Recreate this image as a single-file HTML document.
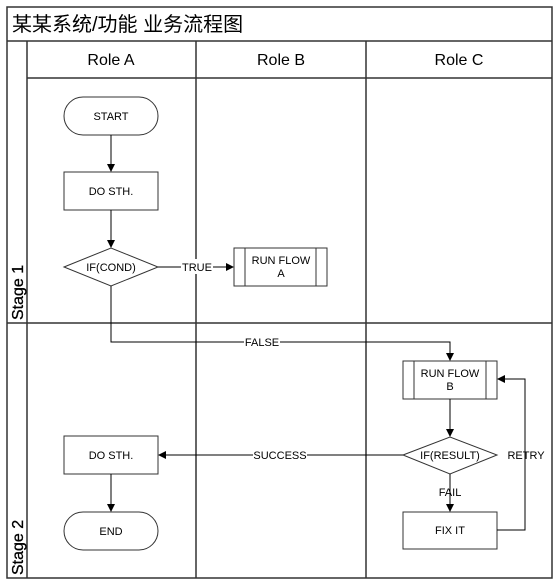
<!DOCTYPE html>
<html><head><meta charset="utf-8"><style>
html,body{margin:0;padding:0;background:#fff;width:555px;height:584px;overflow:hidden}
svg{display:block}
text{font-family:"Liberation Sans","Noto Sans CJK SC",sans-serif;fill:#000}
</style></head><body>
<svg width="555" height="584" viewBox="0 0 555 584" xmlns="http://www.w3.org/2000/svg">
<defs><marker id="a" markerWidth="8" markerHeight="8" refX="7" refY="4" orient="auto" markerUnits="userSpaceOnUse"><path d="M0,0 L8,4 L0,8 z" fill="#000"/></marker></defs>
<g stroke="#333" stroke-width="1.5" fill="none">
<rect x="7" y="7" width="545" height="571"/>
<line x1="7" y1="41" x2="552" y2="41"/>
<line x1="27" y1="78" x2="552" y2="78"/>
<line x1="27" y1="41" x2="27" y2="578"/>
<line x1="196" y1="41" x2="196" y2="578"/>
<line x1="366" y1="41" x2="366" y2="578"/>
<line x1="7" y1="323" x2="552" y2="323"/>
</g>
<text x="12" y="31" font-size="20">某某系统/功能 业务流程图</text>
<g font-size="16" text-anchor="middle">
<text x="111" y="65">Role A</text><text x="281" y="65">Role B</text><text x="459" y="65">Role C</text>
</g>
<text transform="translate(23,320) rotate(-90)" font-size="16" stroke="#000" stroke-width="0.3">Stage 1</text>
<text transform="translate(23,575) rotate(-90)" font-size="16" stroke="#000" stroke-width="0.3">Stage 2</text>
<g stroke="#333" stroke-width="1" fill="#fff">
<rect x="64" y="97" width="94" height="38" rx="19"/>
<rect x="64" y="172" width="94" height="38"/>
<polygon points="64,267 111,248 158,267 111,286"/>
<rect x="234" y="248" width="93" height="38"/>
<line x1="245" y1="248" x2="245" y2="286"/><line x1="316" y1="248" x2="316" y2="286"/>
<rect x="403" y="361" width="94" height="38"/>
<line x1="414" y1="361" x2="414" y2="399"/><line x1="486" y1="361" x2="486" y2="399"/>
<polygon points="403,455 450,437 497,455 450,474"/>
<rect x="403" y="512" width="94" height="37"/>
<rect x="64" y="436" width="94" height="38"/>
<rect x="64" y="512" width="94" height="38" rx="19"/>
</g>
<g stroke="#000" stroke-width="1" fill="none">
<line x1="111" y1="135" x2="111" y2="171" marker-end="url(#a)"/>
<line x1="111" y1="210" x2="111" y2="247" marker-end="url(#a)"/>
<line x1="158" y1="267" x2="233" y2="267" marker-end="url(#a)"/>
<polyline points="111,286 111,342 450,342 450,360" marker-end="url(#a)"/>
<line x1="450" y1="399" x2="450" y2="436" marker-end="url(#a)"/>
<line x1="450" y1="474" x2="450" y2="511" marker-end="url(#a)"/>
<polyline points="497,530 525,530 525,379 498,379" marker-end="url(#a)"/>
<line x1="403" y1="455" x2="159" y2="455" marker-end="url(#a)"/>
<line x1="111" y1="474" x2="111" y2="511" marker-end="url(#a)"/>
</g>
<g font-size="11" text-anchor="middle">
<rect x="181" y="259" width="32" height="15" fill="#fff"/><text x="197" y="271">TRUE</text>
<rect x="244" y="335" width="36" height="14" fill="#fff"/><text x="262" y="346">FALSE</text>
<rect x="253" y="448" width="54" height="14" fill="#fff"/><text x="280" y="459">SUCCESS</text>
<text x="111" y="120">START</text>
<text x="111" y="195">DO  STH.</text>
<text x="111" y="271">IF(COND)</text>
<text x="281" y="264">RUN FLOW</text><text x="281" y="277">A</text>
<text x="450" y="377">RUN FLOW</text><text x="450" y="390">B</text>
<text x="450" y="459">IF(RESULT)</text>
<text x="450" y="496">FAIL</text>
<text x="526" y="459">RETRY</text>
<text x="450" y="534">FIX IT</text>
<text x="111" y="459">DO  STH.</text>
<text x="111" y="535">END</text>
</g>
</svg>
</body></html>
